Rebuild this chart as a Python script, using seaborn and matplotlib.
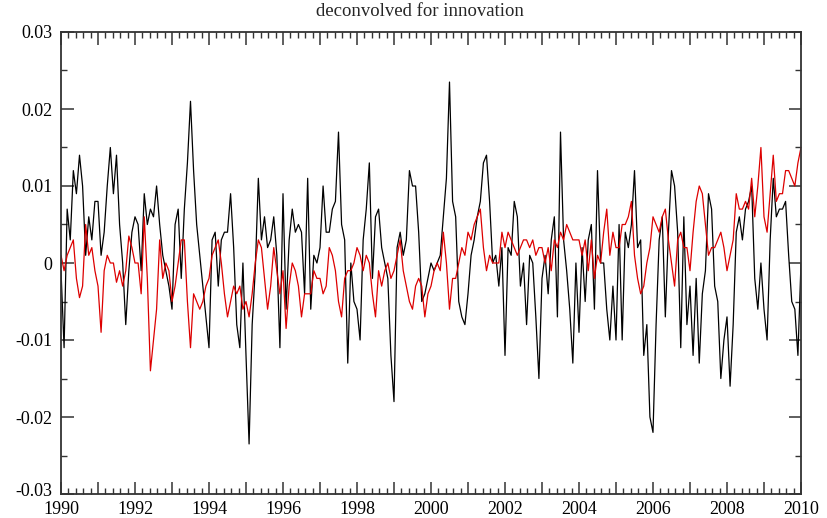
import numpy as np
import pandas as pd
import matplotlib
matplotlib.use("Agg")
import matplotlib.pyplot as plt
import matplotlib.transforms as mtransforms
import seaborn as sns
from matplotlib.ticker import MultipleLocator, FixedLocator, FixedFormatter

# monthly readings, in units of 0.001
black_milli = [
    -1, -11, 7, 3, 12, 9, 14, 10, 1, 6, 3, 8, 8, 1, 4, 10, 15, 9, 14, 5, 0, -8, -1,
    4, 6, 5, -1, 9, 5, 7, 6, 10, 5, 1, -1, -3, -6, 5, 7, -2, 7, 13, 21, 12, 5,
    1, -3, -7, -11, 3, 4, -3, 3, 4, 4, 9, 2, -8, -11, 0, -12, -23.5, -8, -1, 11, 3, 6,
    2, 3, 6, 1, -11, 9, -6, 3, 7, 4, 5, 4, -4, 11, -6, 1, 0, 2, 10, 4, 4, 7,
    8, 17, 5, 3, -13, 0, -5, -6, -10, 3, 7, 13, -2, 6, 7, 2, 0, -2, -12, -18, 2, 4,
    1, 3, 12, 10, 10, 4, -5, -4, -2, 0, -1, 0, 1, 6, 11, 23.5, 8, 6, -5, -7, -8, -4,
    1, 3, 6, 8, 13, 14, 8, 0, 1, -3, 2, -12, 2, 1, 8, 6, -3, 0, -8, 1, 0, -7,
    -15, -2, 1, -4, 3, 6, -7, 17, 3, -1, -6, -13, 0, -9, 2, -5, 3, 5, -6, 12, 0, 0,
    -6, -10, -3, -10, 5, -10, 4, 2, 5, 12, 2, 3, -12, -8, -20, -22, -8, 3, 6, -7, 4, 12,
    10, 4, -11, 6, -8, -3, -12, -2, -13, -4, -1, 9, 7, -3, -5, -15, -10, -7, -16, -8, 4, 6,
    3, 7, 8, 10, -2, -6, 0, -6, -10, 3, 11, 6, 7, 7, 8, 1, -5, -6, -12, 0,
]
red_milli = [
    1, -1, 1, 2, 3, -2, -4.5, -3, 5, 1, 2, -1, -3, -9, -1, 1, 0, 0, -2.5, -1, -3, -1, 3.5,
    2, 0, 0, -4, 6, -2, -14, -10, -6, 3, -2, 0, -1, -5, -3, 0, 3, 3, -5, -11, -4, -5,
    -6, -5, -3, -2, 1, 2, 3, 0, -4, -7, -5, -3, -4, -3, -6, -5, -7, -4, 0, 3, 2, -2,
    -6, -3, 2, -1, -4, -1, -8.5, -3, 0, -1, -3, -7, -4, -4, -4, -1, -2, -2, -4, -3, 2, 1,
    -1, -5, -7, -2, -1, -1, 0, 2, 1, -1, 1, 0, -4, -7, -1, -3, -1, 0, -2, -1, 1, 3,
    -1, -3, -5, -6, -3, -2, -3, -7, -4, -3, -1, 0, -1, 4, 0, -6, -2, -2, 0, 2, 1, 4,
    3, 5, 6, 7, 2, -1, 1, 0, 0, 0, 4, 2, 4, 3, 2, 1, 2, 3, 3, 2, 3, 1,
    2, 2, 0, 2, -1, 3, 2, 4, 3, 5, 4, 3, 3, 3, 1, 3, -1, 3, -2, 1, 0, 4,
    7, 1, 4, 2, 2, 5, 5, 6, 8, 1, -2, -4, -3, 0, 2, 6, 5, 4, 6, 7, 3, 0,
    -3, 3, 4, 2, 2, -1, 4, 8, 10, 9, 5, 1, 2, 2, 3, 4, 2, -1, 1, 3, 9, 7,
    7, 8, 7, 11, 6, 10, 15, 6, 4, 9, 14, 8, 9, 9, 12, 12, 11, 10, 13, 15,
]
start_year = 1990
y_tick_values = [-0.03, -0.02, -0.01, 0.0, 0.01, 0.02, 0.03]
y_tick_labels = ["-0.03", "-0.02", "-0.01", "0", "0.01", "0.02", "0.03"]
title = "deconvolved for innovation"

n = len(black_milli)
t = start_year + np.arange(n) / 12.0
df = pd.DataFrame({
    "t": np.concatenate([t, t]),
    "v": np.concatenate([np.array(black_milli) / 1000.0, np.array(red_milli) / 1000.0]),
    "s": ["black"] * n + ["red"] * n,
})

sns.set_style("white")
plt.rcParams["font.family"] = ["Liberation Serif", "DejaVu Serif"]
plt.rcParams["axes.unicode_minus"] = False

fig = plt.figure(figsize=(8.27, 5.18), dpi=100)
ax = fig.add_axes([61 / 827, 1 - 494 / 518, 740 / 827, 462 / 518])

sns.lineplot(data=df, x="t", y="v", hue="s", palette={"black": "black", "red": "#dd0000"},
             estimator=None, lw=0.9, ax=ax, legend=False)

ax.set_xlim(1990, 2010)
ax.set_ylim(-0.03, 0.03)
ax.set_xlabel("")
ax.set_ylabel("")

years = list(range(1990, 2011))
ax.xaxis.set_major_locator(FixedLocator(years))
ax.xaxis.set_major_formatter(FixedFormatter([str(y) if y % 2 == 0 else "" for y in years]))
ax.xaxis.set_minor_locator(MultipleLocator(0.2))
ax.yaxis.set_major_locator(FixedLocator(y_tick_values))
ax.yaxis.set_major_formatter(FixedFormatter(y_tick_labels))
ax.yaxis.set_minor_locator(MultipleLocator(0.005))

for sp in ax.spines.values():
    sp.set_visible(True)
    sp.set_color("#333333")
    sp.set_linewidth(1.3)

ax.tick_params(which="major", direction="in", length=9, width=1.1, color="#333333",
               top=True, right=True, bottom=True, left=True,
               labelsize=13, labelcolor="black")
ax.tick_params(which="minor", direction="in", length=4.5, width=1.0, color="#333333",
               top=True, right=True, bottom=True, left=True)
ax.tick_params(axis="x", which="major", pad=5)
ax.tick_params(axis="y", which="major", pad=6)

# nudge the lowest y label up slightly so it does not collide with "1990"
fig.canvas.draw()
lowest = ax.yaxis.get_major_ticks()[0].label1
lowest.set_transform(lowest.get_transform() +
                     mtransforms.ScaledTranslation(0, 4 / 100, fig.dpi_scale_trans))

fig.text(420 / 827, 1 - 12 / 518, title, ha="center", va="center", fontsize=13.5)

fig.savefig("out.png", dpi=100)
